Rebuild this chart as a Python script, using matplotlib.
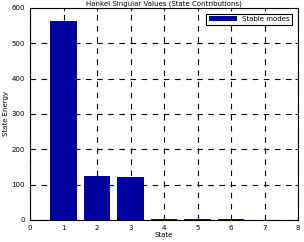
import matplotlib
matplotlib.use("Agg")
import matplotlib.pyplot as plt

states = [1, 2, 3, 4, 5, 6, 7]
energy = [563, 125, 121, 2.5, 2.0, 1.5, 1.0]

fig = plt.figure(figsize=(3.04, 2.42), dpi=100)
ax = fig.add_axes([30 / 304, 22 / 242, 268 / 304, 212 / 242])
ax.bar(states, energy, width=0.8, color="#0000a0", label="Stable modes", zorder=2)
ax.set_xlim(0, 8)
ax.set_ylim(0, 600)
ax.set_xticks(range(0, 9))
ax.set_yticks(range(0, 601, 100))
ax.set_axisbelow(True)
ax.grid(True, color="black", linestyle=(0, (5, 5)), linewidth=0.8)
ax.tick_params(labelsize=5, direction="in", length=2, width=0.6, top=True, right=True)
for s in ax.spines.values():
    s.set_linewidth(0.8)
    s.set_zorder(3)
ax.set_xlabel("State", fontsize=5, labelpad=1)
ax.set_ylabel("State Energy", fontsize=5, labelpad=2)
ax.set_title("Hankel Singular Values (State Contributions)", fontsize=5, pad=2)
leg = ax.legend(loc="upper right", fontsize=5, fancybox=False, framealpha=1,
                edgecolor="black", handlelength=4, borderaxespad=0.8)
leg.get_frame().set_linewidth(0.8)
fig.savefig("out.png", dpi=100)
